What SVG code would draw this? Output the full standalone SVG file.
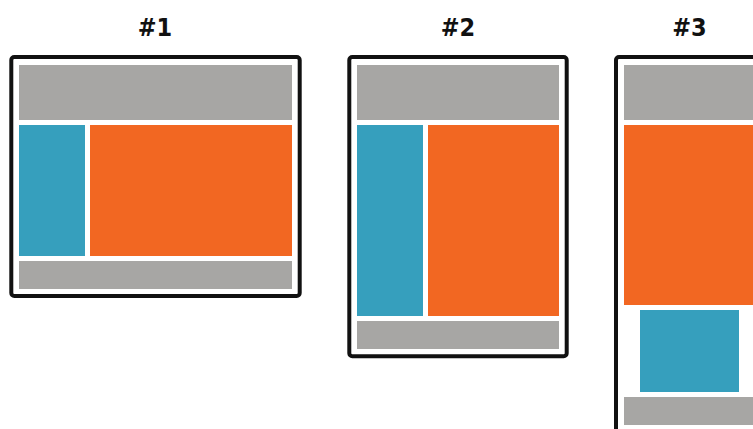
<svg xmlns="http://www.w3.org/2000/svg" width="753" height="429" viewBox="0 0 753 429">
<style>
.frame{fill:#fff;stroke:#111;stroke-width:4}
.gray{fill:#A7A6A4}
.blue{fill:#369FBD}
.orange{fill:#F26722}
.title{font-family:"DejaVu Sans Condensed","Liberation Sans Narrow","Liberation Sans",sans-serif;font-weight:bold;font-size:25px;fill:#111;text-anchor:middle}
</style>
<rect width="753" height="429" fill="#fff"/>
<g id="layout1">
<text class="title" x="155" y="36">#1</text>
<rect class="frame" x="11.3" y="57" width="288.4" height="239" rx="3"/>
<rect class="gray" x="19" y="65" width="273" height="55"/>
<rect class="blue" x="19" y="125" width="66" height="131"/>
<rect class="orange" x="90" y="125" width="202" height="131"/>
<rect class="gray" x="19" y="261" width="273" height="28"/>
</g>
<g id="layout2">
<text class="title" x="458" y="36">#2</text>
<rect class="frame" x="349.3" y="57" width="217.4" height="299.3" rx="3"/>
<rect class="gray" x="357" y="65" width="202" height="55"/>
<rect class="blue" x="357" y="125" width="66" height="191"/>
<rect class="orange" x="428" y="125" width="131" height="191"/>
<rect class="gray" x="357" y="321" width="202" height="28"/>
</g>
<g id="layout3">
<text class="title" x="689.5" y="36">#3</text>
<rect class="frame" x="616" y="57" width="147" height="400" rx="3"/>
<rect class="gray" x="624" y="65" width="131" height="55"/>
<rect class="orange" x="624" y="125" width="131" height="180"/>
<rect class="blue" x="640" y="310" width="99" height="82"/>
<rect class="gray" x="624" y="397" width="131" height="28"/>
</g>
</svg>
